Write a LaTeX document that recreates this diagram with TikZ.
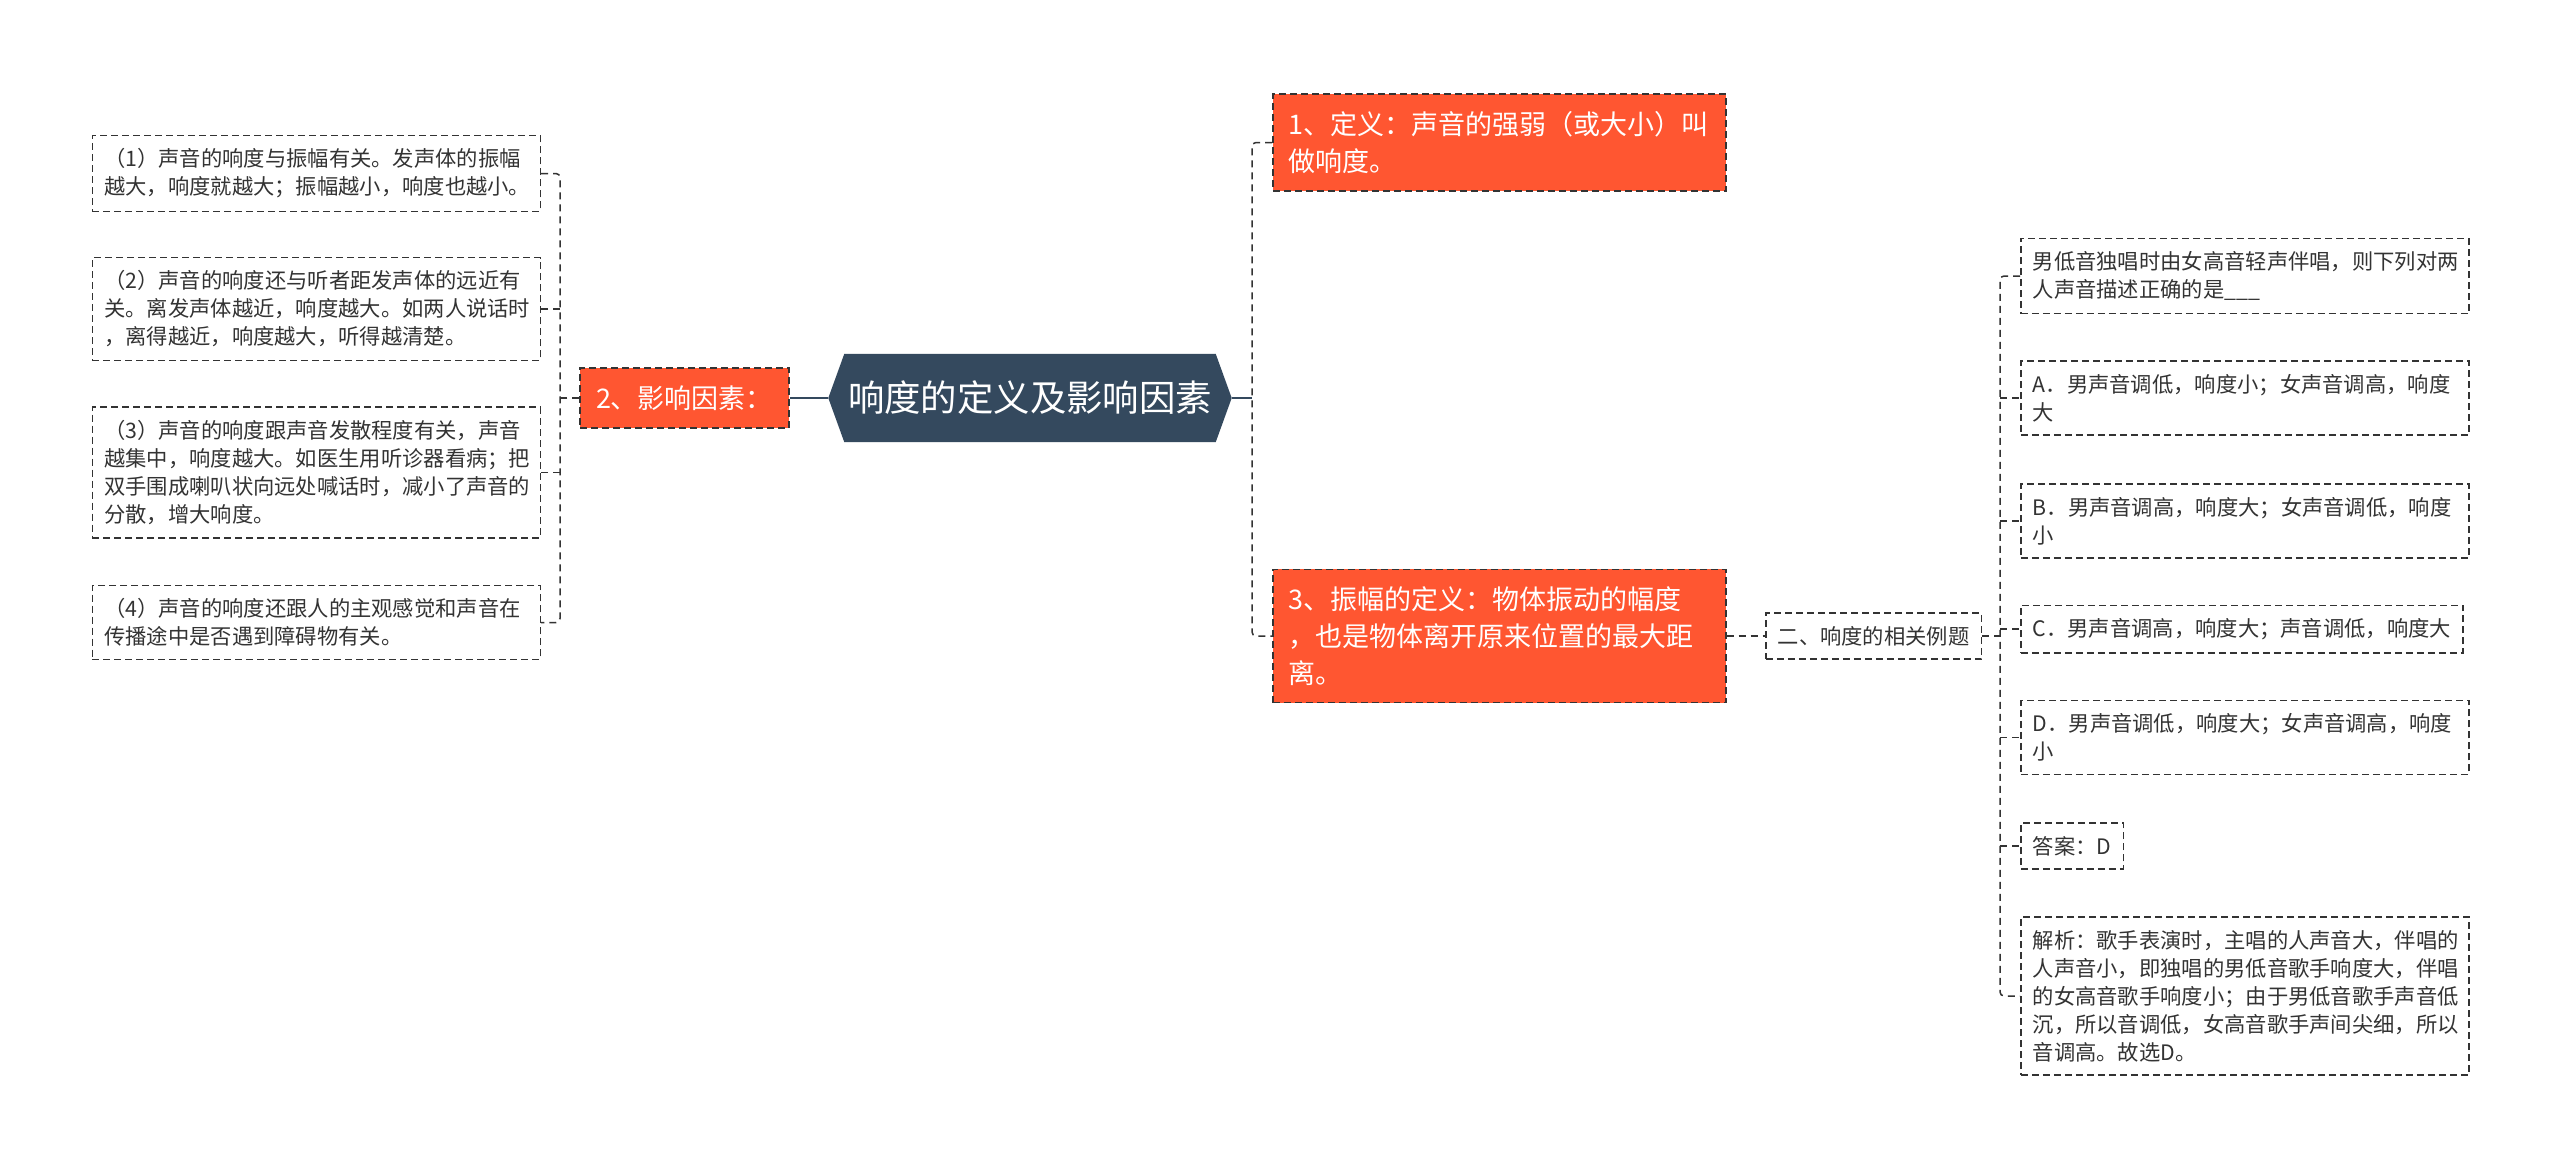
\documentclass[tikz,border=0pt]{standalone}
\usepackage{fontspec}
\setmainfont{Noto Sans CJK SC}
\usepackage{tikz}
\usetikzlibrary{calc,backgrounds}
\definecolor{mapslate}{HTML}{34495E}
\definecolor{maporange}{HTML}{FF5631}
\definecolor{mapline}{HTML}{333333}

\begin{document}
\begin{tikzpicture}[x=1pt, y=-1pt,
    leaf/.style={draw=mapline, line width=1.5pt, dash pattern=on 7pt off 4pt,
      text=mapline, inner xsep=12pt, inner ysep=13pt, align=left,
      font=\fontsize{21.3}{28}\selectfont},
    wideleaf/.style={leaf, text width=424pt},
    topic/.style={draw=mapline, fill=maporange, text=white, line width=1.5pt,
      dash pattern=on 7pt off 4pt, inner xsep=16pt, inner ysep=17.5pt, align=left,
      font=\fontsize{27}{36.7}\selectfont},
    widetopic/.style={topic, text width=421pt},
    branch/.style={draw=mapline, line width=1.5pt, dash pattern=on 7pt off 5pt},
    rootline/.style={draw=mapslate, line width=2.5pt}]
  \useasboundingbox (0,0) rectangle (2560,1167);
  \begin{pgfonlayer}{background}
    \fill[white] (0,0) rectangle (2560,1167);
  \end{pgfonlayer}

  % centre
  \node[text=white, minimum width=403pt, minimum height=88pt, inner sep=0pt,
    font=\fontsize{36.4}{44}\selectfont] (root) at (1030,398) {响度的定义及影响因素};
  \begin{pgfonlayer}{background}
    \fill[mapslate] (root.west) -- ([xshift=16pt]root.north west)
      -- ([xshift=-16pt]root.north east) -- (root.east)
      -- ([xshift=-16pt]root.south east) -- ([xshift=16pt]root.south west) -- cycle;
  \end{pgfonlayer}

  % left branch
  \node[topic] (infl) at (684.5,398) {2、影响因素：};
  \node[wideleaf, anchor=east] (f1) at (541,173.5) {（1）声音的响度与振幅有关。发声体的振幅\\越大，响度就越大；振幅越小，响度也越小。};
  \node[wideleaf, anchor=east] (f2) at (541,309) {（2）声音的响度还与听者距发声体的远近有\\关。离发声体越近，响度越大。如两人说话时\\，离得越近，响度越大，听得越清楚。};
  \node[wideleaf, anchor=east] (f3) at (541,472.5) {（3）声音的响度跟声音发散程度有关，声音\\越集中，响度越大。如医生用听诊器看病；把\\双手围成喇叭状向远处喊话时，减小了声音的\\分散，增大响度。};
  \node[wideleaf, anchor=east] (f4) at (541,622.5) {（4）声音的响度还跟人的主观感觉和声音在\\传播途中是否遇到障碍物有关。};

  % right branch
  \node[widetopic, anchor=west] (defn) at (1272,142.5) {1、定义：声音的强弱（或大小）叫\\做响度。};
  \node[widetopic, anchor=west] (ampl) at (1272,636) {3、振幅的定义：物体振动的幅度\\，也是物体离开原来位置的最大距\\离。};
  \node[leaf, anchor=west] (exmp) at (1765,636) {二、响度的相关例题};
  \node[wideleaf, anchor=west] (ques) at (2020,276) {男低音独唱时由女高音轻声伴唱，则下列对两\\人声音描述正确的是\_\_\_};
  \node[wideleaf, anchor=west] (optA) at (2020,398) {A．男声音调低，响度小；女声音调高，响度\\大};
  \node[wideleaf, anchor=west] (optB) at (2020,521) {B．男声音调高，响度大；女声音调低，响度\\小};
  \node[leaf, anchor=west] (optC) at (2020,629) {C．男声音调高，响度大；声音调低，响度大};
  \node[wideleaf, anchor=west] (optD) at (2020,737.5) {D．男声音调低，响度大；女声音调高，响度\\小};
  \node[leaf, anchor=west] (answ) at (2020,846) {答案：D};
  \node[wideleaf, anchor=west] (expl) at (2020,996) {解析：歌手表演时，主唱的人声音大，伴唱的\\人声音小，即独唱的男低音歌手响度大，伴唱\\的女高音歌手响度小；由于男低音歌手声音低\\沉，所以音调低，女高音歌手声间尖细，所以\\音调高。故选D。};

  % connectors
  \coordinate (lj) at (560,398);
  \coordinate (rj) at (1252,398);
  \coordinate (xj) at (2000,636);
  \draw[rootline] (root.west) -- (infl.east);
  \draw[rootline] (root.east) -- (rj);
  \draw[branch] (infl.west) -- (lj);
  \draw[branch, rounded corners=4pt] (f1.east) -| (lj) |- (f4.east);
  \foreach \c in {f2,f3}
    \draw[branch] (\c.east -| lj) -- (\c.east);
  \draw[branch, rounded corners=4pt] (defn.west) -| (rj) |- (ampl.west);
  \draw[branch] (ampl.east) -- (exmp.west);
  \draw[branch] (exmp.east) -- (xj);
  \draw[branch, rounded corners=4pt] (ques.west) -| (xj) |- (expl.west);
  \foreach \c in {optA,optB,optC,optD,answ}
    \draw[branch] (\c.west -| xj) -- (\c.west);
\end{tikzpicture}
\end{document}
